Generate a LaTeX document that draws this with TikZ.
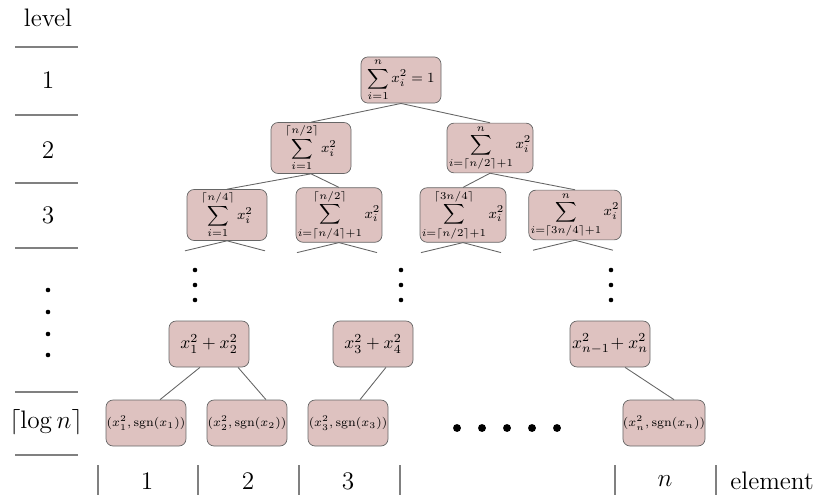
\documentclass[tikz,border=0pt]{standalone}
\usepackage{amsmath}
\begin{document}
\begin{tikzpicture}[x=0.02cm,y=-0.02cm,
 bx/.style={draw=black!60,fill={rgb,255:red,222;green,194;blue,192},rounded corners=4pt,minimum width=1.6cm,minimum height=0.92cm,inner sep=1pt,font=\footnotesize},
 lf/.style={bx,font=\scriptsize,inner sep=0pt},
 ed/.style={draw=black!60,line width=0.5pt},
 sep/.style={draw=black!50,line width=0.6pt},
 dt/.style={circle,fill=black,inner sep=0pt,minimum size=3pt}]
\useasboundingbox (0,0) rectangle (830,503);
\node (r) [bx] at (401,80) {$\displaystyle\sum_{i=1}^{n} x_i^2=1$};
\node (a) [bx] at (311,148) {$\displaystyle\sum_{i=1}^{\lceil n/2\rceil} x_i^2$};
\node (b) [bx] at (490,148) {$\displaystyle\sum_{i=\lceil n/2\rceil+1}^{n} x_i^2$};
\node (c1) [bx] at (227,215) {$\displaystyle\sum_{i=1}^{\lceil n/4\rceil} x_i^2$};
\node (c2) [bx] at (339,215) {$\displaystyle\sum_{i=\lceil n/4\rceil+1}^{\lceil n/2\rceil} x_i^2$};
\node (c3) [bx] at (463,215) {$\displaystyle\sum_{i=\lceil n/2\rceil+1}^{\lceil 3n/4\rceil} x_i^2$};
\node (c4) [bx] at (575,215) {$\displaystyle\sum_{i=\lceil 3n/4\rceil+1}^{n} x_i^2$};
\draw[ed] (r.south) -- (a.north) (r.south) -- (b.north);
\draw[ed] (a.south) -- (c1.north) (a.south) -- (c2.north);
\draw[ed] (b.south) -- (c3.north) (b.south) -- (c4.north);
\foreach \n in {c1,c2,c3,c4}{
 \coordinate (\n l) at ([xshift=-0.84cm,yshift=-0.2cm]\n.south);
 \coordinate (\n r) at ([xshift=0.76cm,yshift=-0.2cm]\n.south);
 \draw[ed] (\n l) -- (\n.south) -- (\n r);}
\foreach \x in {195,401,611}\foreach \y in {270,285,300}\node[dt,minimum size=2.6pt] at (\x,\y) {};
\foreach \y in {290,312,334,355}\node[dt,minimum size=2.6pt] at (48,\y) {};
\node (d1) [bx,font=\normalsize] at (209,344) {$x_1^2+x_2^2$};
\node (d2) [bx,font=\normalsize] at (373,344) {$x_3^2+x_4^2$};
\node (d3) [bx,font=\normalsize,inner sep=0pt] at (610,344) {$x_{n-1}^2\!+x_n^2$};
\node (l1) [lf] at (146,423) {$(x_1^2,\mathrm{sgn}(x_1))$};
\node (l2) [lf] at (247,423) {$(x_2^2,\mathrm{sgn}(x_2))$};
\node (l3) [lf] at (348,423) {$(x_3^2,\mathrm{sgn}(x_3))$};
\node (ln) [lf] at (664,423) {$(x_n^2,\mathrm{sgn}(x_n))$};
\draw[ed] ([xshift=-0.18cm]d1.south) -- ([xshift=0.28cm]l1.north);
\draw[ed] ([xshift=0.58cm]d1.south) -- ([xshift=0.38cm]l2.north);
\draw[ed] ([xshift=0.26cm]d2.south) -- ([xshift=0.24cm]l3.north);
\draw[ed] ([xshift=0.3cm]d3.south) -- ([xshift=0.2cm]ln.north);
\foreach \x in {457,482,507,532,557}\node[dt,minimum size=4.5pt] at (\x,428) {};
% level column
\node (lv) at (48,18) {\Large level};
\foreach \y in {47,115,183,248,392,455}\draw[sep] (15,\y) -- (78,\y);
\node at (48,80) {\Large 1};
\node at (48,150) {\Large 2};
\node at (48,215) {\Large 3};
\node at (46,422) {\Large $\lceil\log n\rceil$};
% bottom
\foreach \x in {98,198,299,400,615,716}\draw[sep] (\x,465) -- (\x,495);
\node at (147,481) {\Large 1};
\node at (248,481) {\Large 2};
\node at (348,481) {\Large 3};
\node at (665,481) {\Large $n$};
\node at (772,481) {\Large element};
\end{tikzpicture}
\end{document}
